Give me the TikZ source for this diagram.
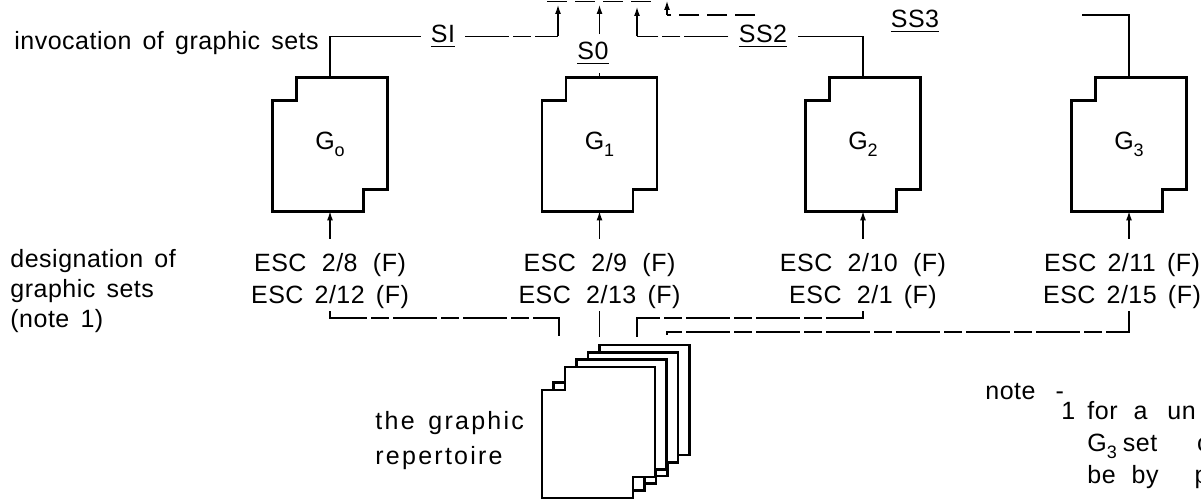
\documentclass[tikz,border=0pt]{standalone}
\usepackage{fontspec}
\setmainfont{Liberation Sans}[LetterSpace=2,WordSpace=1.5]
\usetikzlibrary{arrows.meta,calc}
\newcommand\gsub[1]{\raisebox{-0.5ex}{\fontsize{9}{9}\selectfont #1}}
\newcommand\stepoutline[1]{%
  \draw[boxline] ($(#1.north west)+(24,0)$) -- (#1.north east)
    -- ($(#1.south east)+(0,-22)$) -- ($(#1.south east)+(-24,-22)$)
    -- ($(#1.south east)+(-24,0)$) -- (#1.south west)
    -- ($(#1.north west)+(0,23)$) -- ($(#1.north west)+(24,23)$) -- cycle;}
\tikzset{
  lbl/.style={font=\fontsize{12.5}{15}\selectfont, inner sep=0pt},
  esc/.style={lbl, font=\fontsize{12.5}{16}\selectfont, align=center, anchor=north},
  gbox/.style={lbl, minimum width=57pt, minimum height=66.5pt},
  boxline/.style={line width=1.2pt, line join=miter},
  conn/.style={line width=0.6pt},
  dconn/.style={conn, dash pattern=on 22pt off 2pt on 9pt off 2pt},
  arr/.style={conn, -{Latex[length=4.5pt,width=3pt]}},
  sheet/.style={boxline, fill=white},
}
\begin{document}
\begin{tikzpicture}[x=0.5pt,y=-0.5pt]
\useasboundingbox (0,0) rectangle (1201,502);
\clip (0,0) rectangle (1201,502);

% graphic set boxes
\node[gbox] (G0) at (330,144.5) {G\gsub{o}};
\node[gbox] (G1) at (599.5,144.5) {G\gsub{1}};
\node[gbox] (G2) at (863,144.5) {G\gsub{2}};
\node[gbox] (G3) at (1129,144.5) {G\gsub{3}};
\stepoutline{G0}
\stepoutline{G1}
\stepoutline{G2}
\stepoutline{G3}

% labels on the left
\node[lbl, anchor=base west] (inv) at (14,50) {invocation of graphic sets};
\node[lbl, align=left, anchor=north west] (des) at (10,249) {designation of\\graphic sets\\(note 1)};

% escape sequences
\node[esc] (E0) at (330,253) {ESC\ \,2/8\ \,(F)\\ESC 2/12 (F)};
\node[esc] (E1) at (599.5,253) {ESC\ \,2/9\ \,(F)\\ESC\ \,2/13 (F)};
\node[esc] (E2) at (863,253) {ESC\ \,2/10\ \,(F)\\ESC\ \,2/1 (F)};
\node[esc] (E3) at (1122,253) {ESC 2/11 (F)\\ESC 2/15 (F)};

\foreach \i in {0,1,2,3}{
  \draw[arr] ($(E\i.north -| G\i.south)+(0,-14)$) -- (G\i.south);
}

% invocation labels
\node[lbl, anchor=base, inner xsep=5pt] (SI) at (443,43) {\underline{SI}};
\node[lbl, anchor=base, inner ysep=4pt] (S0) at (593,60) {\underline{S0}};
\node[lbl, anchor=base, inner xsep=5pt] (SS2) at (763,43) {\underline{SS2}};
\node[lbl, anchor=base] (SS3) at (915,28) {\underline{SS3}};

\coordinate (t0) at (558,5);
\coordinate (t1) at (599.5,5);
\coordinate (t2) at (637,7);
\coordinate (t3) at (667,1);
\coordinate (c3a) at (1082,15);
\coordinate (c3b) at (755,15);
\coordinate (c3c) at (667,15);

\draw[conn] (G0.north) |- (SI.west);
\draw[dconn] (SI.east) -- (SI.east -| t0);
\draw[arr] (SI.east -| t0) -- (t0);

\draw[conn] (G1.north) -- (G1.north |- S0.south);
\draw[arr] (G1.north |- S0.north) -- (t1);

\draw[conn] (G2.north) |- (SS2.east);
\draw[dconn] (SS2.west) -- (SS2.west -| t2);
\draw[arr] (SS2.west -| t2) -- (t2);

\draw[conn] (G3.north) |- (c3a);
\draw[conn, dash pattern=on 10pt off 4pt] (c3b) -- (c3c);
\draw[arr] (c3c) -- (t3);

\draw[conn, dash pattern=on 10pt off 4pt] (547,1.5) -- (657,1.5);

% repertoire stack
\foreach \k in {3,2,1,0}{
  \begin{scope}[shift={(11.5*\k,-7.3*\k)}]
    \draw[sheet] (565,367) -- (655,367) -- (655,477) -- (633,477) -- (633,498)
      -- (542,498) -- (542,390) -- (565,390) -- cycle;
  \end{scope}
}
\node[lbl, align=left, anchor=north west, font=\fontsize{12.5}{17.5}\selectfont\addfontfeatures{LetterSpace=9}] (rep) at (375,411) {the graphic\\repertoire};

\coordinate (s0) at (559,337);
\coordinate (s1) at (599.5,337);
\coordinate (s2) at (637,337);
\coordinate (s3) at (667,337);
\coordinate (k0) at (559,318);
\coordinate (k2) at (637,318);
\coordinate (k3) at (667,332);

\draw[dconn] ($(E0.south -| G0.south)+(0,2)$) |- (k0) -- (s0);
\draw[conn] ($(E1.south)+(0,2)$) -- (s1);
\draw[dconn] ($(E2.south)+(0,2)$) |- (k2) -- (s2);
\draw[dconn] ($(E3.south -| G3.south)+(0,2)$) |- (k3) -- (s3);

% note
\node[lbl, anchor=base west] (note) at (985,400) {note\hspace{10pt}-};
\node[lbl, anchor=base west] (n1) at (1061,420) {1};
\node[lbl, align=left, anchor=north west, font=\fontsize{12.5}{16}\selectfont] (ntext) at (1087,401)
  {for\hspace{8pt}a\hspace{10pt}un\\G\gsub{3}\hspace{3pt}set\hspace{20pt}c\\be\hspace{8pt}by\hspace{18pt}p};
\end{tikzpicture}
\end{document}
